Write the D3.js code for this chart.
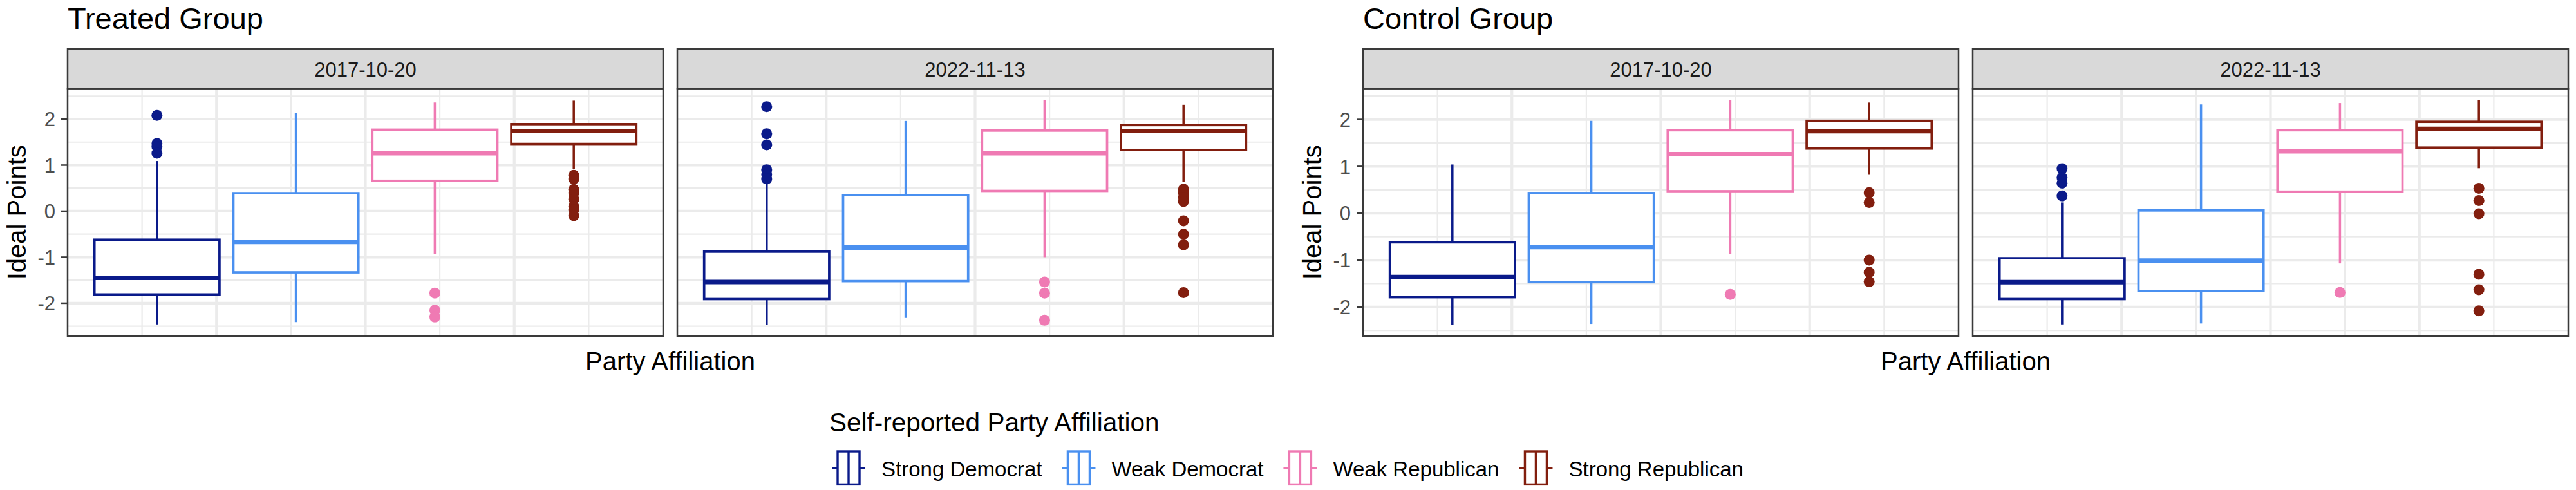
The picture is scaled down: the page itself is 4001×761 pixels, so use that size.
<!DOCTYPE html>
<html><head><meta charset="utf-8">
<script src="https://cdn.jsdelivr.net/npm/d3@7"></script>
<style>body{margin:0;background:#fff} svg{display:block} text{font-family:"Liberation Sans",Arial,Helvetica,sans-serif}</style>
</head><body><svg id="c" width="4001" height="761"></svg>
<script>
// ---------------- DATA ----------------
const parties = ["Strong Democrat","Weak Democrat","Weak Republican","Strong Republican"];
const partyColors = ["#0A1A8A","#4A90F0","#EF7AB3","#821E0E"];
const dates = ["2017-10-20","2022-11-13"];
const groupTitles = ["Treated Group","Control Group"];
const yTicks = [-2,-1,0,1,2];
const yMinorTicks = [-2.5,-1.5,-0.5,0.5,1.5,2.5];
const xMajorTicks = [-0.25,0,0.25];
const xMinorTicks = [-0.375,-0.125,0.125,0.375];
// box stats per party: [lower whisker, Q1, median, Q3, upper whisker]
const treated2017 = [[-2.46,-1.81,-1.45,-0.62,1.09],[-2.41,-1.33,-0.67,0.39,2.13],[-0.93,0.66,1.26,1.77,2.36],[0.92,1.46,1.74,1.89,2.40]];
const treated2017Out = [[2.08,1.47,1.40,1.26],[],[-1.78,-2.15,-2.30],[0.78,0.70,0.47,0.40,0.26,0.10,0.03,-0.10]];
const treated2022 = [[-2.47,-1.91,-1.54,-0.88,0.59],[-2.32,-1.52,-0.79,0.35,1.96],[-1.00,0.44,1.26,1.75,2.42],[0.63,1.33,1.74,1.87,2.31]];
const treated2022Out = [[2.27,1.68,1.44,0.90,0.80,0.70],[],[-1.54,-1.78,-2.37],[0.48,0.40,0.30,0.21,-0.21,-0.50,-0.73,-1.77]];
const control2017 = [[-2.38,-1.79,-1.36,-0.62,1.04],[-2.36,-1.47,-0.72,0.43,1.97],[-0.87,0.47,1.26,1.77,2.42],[0.82,1.38,1.75,1.97,2.36]];
const control2017Out = [[],[],[-1.73],[0.44,0.23,-1.00,-1.26,-1.46]];
const control2022 = [[-2.37,-1.83,-1.47,-0.96,0.23],[-2.35,-1.66,-1.01,0.06,2.32],[-1.07,0.46,1.32,1.77,2.35],[0.96,1.40,1.80,1.95,2.41]];
const control2022Out = [[0.95,0.76,0.64,0.37],[],[-1.69],[0.53,0.27,-0.01,-1.30,-1.63,-2.08]];
const xLabel = "Party Affiliation";
const yLabel = "Ideal Points";
const legendTitle = "Self-reported Party Affiliation";

// ---------------- LAYOUT ----------------
const svg = d3.select("#c");
const groups = [
  {title: groupTitles[0], stats:[treated2017, treated2022], outs:[treated2017Out, treated2022Out], left:105},
  {title: groupTitles[1], stats:[control2017, control2022], outs:[control2017Out, control2022Out], left:2117}
];
const panelW = 925, panelGap = 22;
const stripTop = 76, panelTop = 137.5, panelBot = 522;
const slot = 0.2333, boxHalf = 0.45*slot;
const border = "#3a3a3a";

groups.forEach(g => {
  const all = [];
  g.stats.forEach(s => s.forEach(b => all.push(...b)));
  g.outs.forEach(o => o.forEach(a => all.push(...a)));
  const lo = d3.min(all), hi = d3.max(all), pad = (hi-lo)*0.05;
  const y = d3.scaleLinear().domain([lo-pad, hi+pad]).range([panelBot, panelTop]);

  svg.append("text").attr("x", g.left).attr("y", 45).attr("font-size", 47).attr("fill", "#000").text(g.title);

  dates.forEach((d, di) => {
    const x0 = g.left + di*(panelW+panelGap), x1 = x0 + panelW;
    const x = d3.scaleLinear().domain([-0.5,0.5]).range([x0, x1]);
    const p = svg.append("g");
    p.append("rect").attr("x", x0).attr("y", panelTop).attr("width", panelW).attr("height", panelBot-panelTop).attr("fill", "#fff");
    // minor grid
    p.selectAll(null).data(yMinorTicks.filter(t => t > y.domain()[0] && t < y.domain()[1])).join("line")
      .attr("x1", x0).attr("x2", x1).attr("y1", t => y(t)).attr("y2", t => y(t)).attr("stroke", "#EBEBEB").attr("stroke-width", 2.2);
    p.selectAll(null).data(xMinorTicks).join("line")
      .attr("y1", panelTop).attr("y2", panelBot).attr("x1", t => x(t)).attr("x2", t => x(t)).attr("stroke", "#EBEBEB").attr("stroke-width", 2.2);
    // major grid
    p.selectAll(null).data(yTicks).join("line")
      .attr("x1", x0).attr("x2", x1).attr("y1", t => y(t)).attr("y2", t => y(t)).attr("stroke", "#EBEBEB").attr("stroke-width", 4.2);
    p.selectAll(null).data(xMajorTicks).join("line")
      .attr("y1", panelTop).attr("y2", panelBot).attr("x1", t => x(t)).attr("x2", t => x(t)).attr("stroke", "#EBEBEB").attr("stroke-width", 4.2);

    // boxes
    g.stats[di].forEach((b, i) => {
      const c = (i-1.5)*slot, col = partyColors[i];
      const bx0 = x(c-boxHalf), bx1 = x(c+boxHalf), cx = x(c);
      p.append("line").attr("x1", cx).attr("x2", cx).attr("y1", y(b[4])).attr("y2", y(b[3])).attr("stroke", col).attr("stroke-width", 3.5);
      p.append("line").attr("x1", cx).attr("x2", cx).attr("y1", y(b[1])).attr("y2", y(b[0])).attr("stroke", col).attr("stroke-width", 3.5);
      p.append("rect").attr("x", bx0).attr("y", y(b[3])).attr("width", bx1-bx0).attr("height", y(b[1])-y(b[3]))
        .attr("fill", "#fff").attr("stroke", col).attr("stroke-width", 3.7);
      p.append("line").attr("x1", bx0).attr("x2", bx1).attr("y1", y(b[2])).attr("y2", y(b[2])).attr("stroke", col).attr("stroke-width", 7);
      p.selectAll(null).data(g.outs[di][i]).join("circle")
        .attr("cx", cx).attr("cy", v => y(v)).attr("r", 8.5).attr("fill", col);
    });
    // panel border
    p.append("rect").attr("x", x0).attr("y", panelTop).attr("width", panelW).attr("height", panelBot-panelTop)
      .attr("fill", "none").attr("stroke", border).attr("stroke-width", 2.5);
    // strip
    p.append("rect").attr("x", x0).attr("y", stripTop).attr("width", panelW).attr("height", panelTop-stripTop)
      .attr("fill", "#D9D9D9").attr("stroke", border).attr("stroke-width", 2.5);
    p.append("text").attr("x", (x0+x1)/2).attr("y", 119).attr("text-anchor", "middle").attr("font-size", 31).attr("fill", "#1A1A1A").text(d);

    if (di === 0) {
      const ax = svg.append("g");
      ax.selectAll(null).data(yTicks).join("line")
        .attr("x1", x0-10).attr("x2", x0).attr("y1", t => y(t)).attr("y2", t => y(t)).attr("stroke", border).attr("stroke-width", 2.5);
      ax.selectAll(null).data(yTicks).join("text")
        .attr("x", x0-19).attr("y", t => y(t)).attr("dy", "0.36em").attr("text-anchor", "end")
        .attr("font-size", 31).attr("fill", "#4D4D4D").text(t => String(t));
      svg.append("text").attr("transform", `translate(${x0-65},${(panelTop+panelBot)/2}) rotate(-90)`)
        .attr("text-anchor", "middle").attr("font-size", 40).attr("fill", "#000").text(yLabel);
    }
  });
  svg.append("text").attr("x", g.left + (2*panelW+panelGap)/2).attr("y", 575).attr("text-anchor", "middle")
    .attr("font-size", 40).attr("fill", "#000").text(xLabel);
});

// ---------------- LEGEND ----------------
const lg = svg.append("g");
const lt = lg.append("text").attr("y", 670).attr("font-size", 40.5).attr("fill", "#000").text(legendTitle);
const keyY = 726.7;
let cursor = 0;
const items = [];
parties.forEach((p, i) => {
  const kc = cursor + 26;
  const t = lg.append("text").attr("x", kc+51).attr("y", 740).attr("font-size", 33).attr("fill", "#000").text(p);
  const w = t.node().getComputedTextLength();
  items.push({kc, col: partyColors[i]});
  cursor = kc + 51 + w + 57 - 26;
});
const blockW = cursor - 57 + 26;
const shift = 2000 - blockW/2;
lg.attr("transform", `translate(${shift},0)`);
lt.attr("x", -4);
items.forEach(it => {
  const k = lg.append("g").attr("stroke", it.col).attr("stroke-width", 3.4);
  k.append("line").attr("x1", it.kc-26).attr("x2", it.kc+26).attr("y1", keyY).attr("y2", keyY);
  k.append("rect").attr("x", it.kc-17).attr("y", keyY-25.7).attr("width", 34).attr("height", 51.4).attr("fill", "#fff");
  k.append("line").attr("x1", it.kc).attr("x2", it.kc).attr("y1", keyY-25.7).attr("y2", keyY+25.7);
});
</script></body></html>
